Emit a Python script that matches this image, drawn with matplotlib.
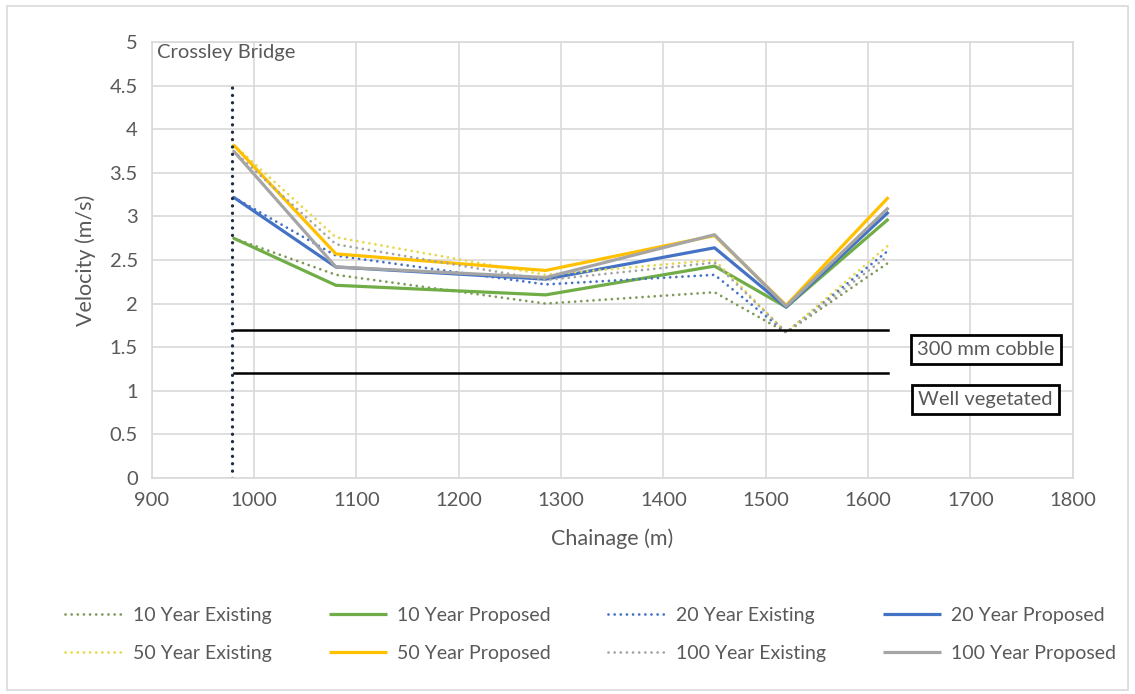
import matplotlib
matplotlib.use("Agg")
import matplotlib.pyplot as plt
from matplotlib.patches import Rectangle

plt.rcParams['font.family'] = ['Lato', 'DejaVu Sans']

# Chainage of the model cross sections (m)
chainage = [980, 1080, 1285, 1450, 1520, 1620]

# Velocities (m/s)
v10_existing = [2.75, 2.33, 2.00, 2.13, 1.67, 2.47]
v10_proposed = [2.75, 2.21, 2.10, 2.43, 1.96, 2.97]
v20_existing = [3.22, 2.55, 2.22, 2.33, 1.67, 2.61]
v20_proposed = [3.22, 2.42, 2.28, 2.64, 1.96, 3.05]
v50_existing = [3.82, 2.76, 2.33, 2.50, 1.67, 2.67]
v50_proposed = [3.82, 2.57, 2.38, 2.78, 1.98, 3.22]
v100_existing = [3.75, 2.68, 2.27, 2.47, 1.67, 2.55]
v100_proposed = [3.75, 2.42, 2.30, 2.79, 1.97, 3.10]

# Threshold velocities
thresholds = [1.7, 1.2]
threshold_labels = ["300 mm cobble", "Well vegetated"]
threshold_range = [980, 1620]

# Crossley Bridge location
bridge_x = 978
bridge_top = 4.5

x_ticks = list(range(900, 1801, 100))
y_ticks = [0, 0.5, 1, 1.5, 2, 2.5, 3, 3.5, 4, 4.5, 5]

GREEN = '#70AD47'
BLUE = '#4472C4'
GOLD = '#FFC000'
GREY = '#A5A5A5'
TEXT = '#595959'
DOTS = (0, (0.01, 2.2))

fig = plt.figure(figsize=(11.35, 6.94), dpi=100)
ax = fig.add_axes([151.7 / 1135, 1 - 478 / 694, (1072.7 - 151.7) / 1135, (478 - 42) / 694])

# figure border
fig.patches.append(Rectangle((0.006, 0.006), 0.988, 0.986, transform=fig.transFigure,
                             fill=False, edgecolor='#D9D9D9', linewidth=1.2))

series = [
    ("10 Year Existing", v10_existing, '#7F9A5A', DOTS),
    ("10 Year Proposed", v10_proposed, GREEN, '-'),
    ("20 Year Existing", v20_existing, BLUE, DOTS),
    ("20 Year Proposed", v20_proposed, BLUE, '-'),
    ("50 Year Existing", v50_existing, '#E6D84A', DOTS),
    ("50 Year Proposed", v50_proposed, GOLD, '-'),
    ("100 Year Existing", v100_existing, GREY, DOTS),
    ("100 Year Proposed", v100_proposed, GREY, '-'),
]

handles = {}
for label, vals, color, ls in series:
    lw = 2.0 if ls == DOTS else 2.3
    line, = ax.plot(chainage, vals, color=color, linestyle=ls, linewidth=lw, label=label,
                    dash_capstyle='round', solid_capstyle='butt')
    handles[label] = line

# threshold lines and labels
for val in thresholds:
    ax.plot(threshold_range, [val, val], color='black', linewidth=1.8)
for val, lab in zip([1.47, 0.90], threshold_labels):
    ax.text(1715, val, lab, ha='center', va='center', fontsize=14.5, color=TEXT,
            bbox=dict(boxstyle='square,pad=0.3', facecolor='white', edgecolor='black', linewidth=2))

# bridge marker
ax.plot([bridge_x, bridge_x], [0, bridge_top], color='#1F2D3D', linestyle=DOTS, linewidth=2.4,
        dash_capstyle='round')
ax.text(0.006, 0.995, "Crossley Bridge", transform=ax.transAxes, ha='left', va='top',
        fontsize=14.5, color=TEXT)

ax.set_xlim(900, 1800)
ax.set_ylim(0, 5)
ax.set_xticks(x_ticks)
ax.set_yticks(y_ticks)
ax.set_yticklabels([f"{t:g}" for t in y_ticks])
ax.grid(True, color='#D9D9D9', linewidth=1.2)
ax.set_axisbelow(True)
for s in ax.spines.values():
    s.set_color('#D9D9D9')
    s.set_linewidth(1.2)
ax.tick_params(length=0, labelsize=14.5, labelcolor=TEXT, pad=10)
ax.set_xlabel("Chainage (m)", fontsize=15.5, color=TEXT, labelpad=14)
ax.set_ylabel("Velocity (m/s)", fontsize=15.5, color=TEXT, labelpad=10)

# legend: two rows of four, filled row by row
order = ["10 Year Existing", "50 Year Existing", "10 Year Proposed", "50 Year Proposed",
         "20 Year Existing", "100 Year Existing", "20 Year Proposed", "100 Year Proposed"]
fig.legend([handles[k] for k in order], order, loc='lower left',
           bbox_to_anchor=(0.05, 0.035, 0.94, 0.1), mode='expand', ncol=4, frameon=False,
           fontsize=14, labelcolor=TEXT, handlelength=3.0, handletextpad=0.5,
           labelspacing=1.1, borderaxespad=0)

fig.savefig("out.png", dpi=100)
